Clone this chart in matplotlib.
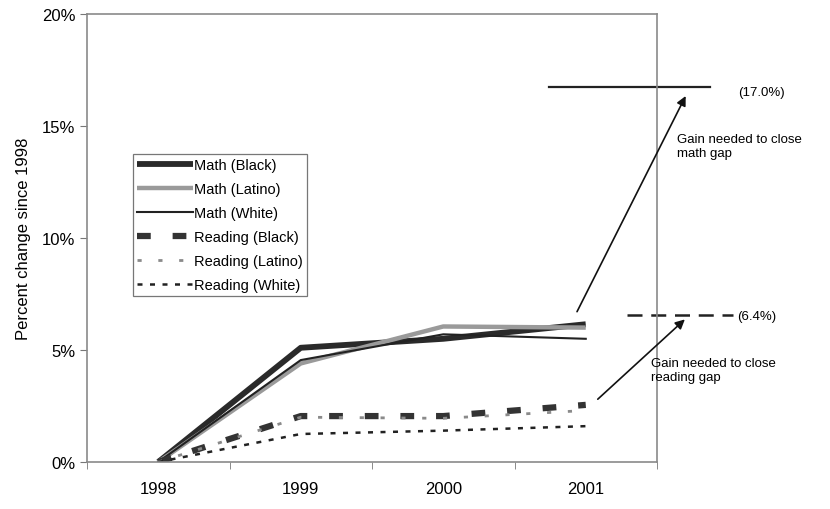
import matplotlib
matplotlib.use("Agg")
import matplotlib.pyplot as plt
from matplotlib.ticker import FuncFormatter, FixedLocator

plt.rcParams['font.family'] = ['Liberation Sans', 'DejaVu Sans']

years = ["1998", "1999", "2000", "2001"]
math_black = [0.0, 5.1, 5.5, 6.15]
math_latino = [0.0, 4.4, 6.05, 6.0]
math_white = [0.0, 4.55, 5.7, 5.5]
read_black = [0.0, 2.05, 2.05, 2.55]
read_latino = [0.0, 2.0, 1.95, 2.3]
read_white = [0.0, 1.25, 1.4, 1.6]
yticks = [0, 5, 10, 15, 20]
math_gap = 16.75
read_gap = 6.55
math_gap_label = "(17.0%)"
read_gap_label = "(6.4%)"

fig = plt.figure(figsize=(8.3, 5.1), dpi=100)
ax = fig.add_axes([87/830, 47/510, 570/830, 448/510])
x = list(range(len(years)))

ax.plot(x, math_black, color='#2a2a2a', lw=4.2, solid_capstyle='butt', label='Math (Black)')
ax.plot(x, math_latino, color='#9a9a9a', lw=3.2, solid_capstyle='butt', label='Math (Latino)')
ax.plot(x, math_white, color='#222222', lw=1.5, label='Math (White)')
ax.plot(x, read_black, color='#333333', lw=4.5, dashes=(2.2, 3.5), label='Reading (Black)')
ax.plot(x, read_latino, color='#8a8a8a', lw=2.0, dashes=(1.5, 6), label='Reading (Latino)')
ax.plot(x, read_white, color='#222222', lw=1.8, dashes=(2, 3), label='Reading (White)')

ax.set_xlim(-0.5, 3.5)
ax.set_ylim(0, 20)
ax.set_xticks(x)
ax.set_xticklabels(years, fontsize=12)
ax.xaxis.set_minor_locator(FixedLocator([-0.5, 0.5, 1.5, 2.5, 3.5]))
ax.tick_params(axis='x', which='major', length=0, pad=14)
ax.tick_params(axis='x', which='minor', length=5, color='#777777')
ax.set_yticks(yticks)
ax.yaxis.set_major_formatter(FuncFormatter(lambda v, p: f"{int(v)}%"))
ax.tick_params(axis='y', labelsize=12, length=5, color='#777777')
ax.set_ylabel("Percent change since 1998", fontsize=12, labelpad=8)
for s in ax.spines.values():
    s.set_color('#8a8a8a')
    s.set_linewidth(1.2)

# Gap lines
ax.plot([2.74, 3.87], [math_gap, math_gap], color='#222222', lw=1.6, clip_on=False)
ax.plot([3.29, 4.03], [read_gap, read_gap], color='#222222', lw=1.8, dashes=(6, 3.5), clip_on=False)
ax.text(4.07, math_gap - 0.25, math_gap_label, fontsize=9.5, va='center', ha='left', clip_on=False)
ax.text(4.06, read_gap - 0.02, read_gap_label, fontsize=9.5, va='center', ha='left', clip_on=False)

ax.annotate("", xy=(3.71, math_gap - 0.3), xytext=(2.93, 6.6),
            arrowprops=dict(arrowstyle='-|>', color='#111111', lw=1.2, mutation_scale=14),
            annotation_clip=False)
ax.annotate("", xy=(3.71, read_gap - 0.1), xytext=(3.07, 2.72),
            arrowprops=dict(arrowstyle='-|>', color='#111111', lw=1.2, mutation_scale=14),
            annotation_clip=False)
ax.text(3.64, 14.7, "Gain needed to close\nmath gap", fontsize=9.5, va='top', ha='left',
        linespacing=1.3, clip_on=False)
ax.text(3.46, 4.7, "Gain needed to close\nreading gap", fontsize=9.5, va='top', ha='left',
        linespacing=1.3, clip_on=False)

leg = ax.legend(loc='upper left', bbox_to_anchor=(46/570, 1 - 140/448), fontsize=10.5,
                frameon=True, fancybox=False, handlelength=3.8, handletextpad=0.05,
                borderpad=0.3, labelspacing=0.68, borderaxespad=0)
leg.get_frame().set_edgecolor('#555555')
leg.get_frame().set_linewidth(0.9)

fig.savefig("out.png", dpi=100)
